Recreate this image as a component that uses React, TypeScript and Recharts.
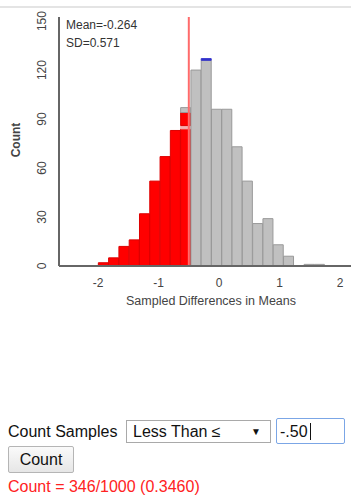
import { ComposedChart, Bar, XAxis, YAxis, ReferenceLine } from 'recharts';

// histogram bins (bin centres) and counts per colour band
const binCenters = [-1.91, -1.74, -1.57, -1.4, -1.23, -1.06, -0.89, -0.72, -0.55, -0.38, -0.21, -0.04, 0.13, 0.3, 0.47, 0.64, 0.81, 0.98, 1.15, 1.32, 1.49, 1.66];
const redCounts = [2, 5, 12, 16, 32, 52, 67, 83, 84, 0, 0, 0, 0, 0, 0, 0, 0, 0, 0, 0, 0, 0];
const gapCounts = [0, 0, 0, 0, 0, 0, 0, 0, 2, 0, 0, 0, 0, 0, 0, 0, 0, 0, 0, 0, 0, 0];
const redUpperCounts = [0, 0, 0, 0, 0, 0, 0, 0, 8, 0, 0, 0, 0, 0, 0, 0, 0, 0, 0, 0, 0, 0];
const grayCounts = [0, 0, 0, 0, 0, 0, 0, 0, 3, 120, 126, 96, 96, 73, 52, 26, 29, 13, 6, 0, 1, 1];
const blueCounts = [0, 0, 0, 0, 0, 0, 0, 0, 0, 0, 1, 0, 0, 0, 0, 0, 0, 0, 0, 0, 0, 0];

const xTicks = [-2, -1, 0, 1, 2];
const yTicks = [0, 30, 60, 90, 120, 150];
const cutoff = -0.5;

const meanText = 'Mean=-0.264';
const sdText = 'SD=0.571';
const resultText = 'Count = 346/1000 (0.3460)';

const FONT = '"Liberation Sans", Arial, sans-serif';

const chartData = binCenters.map((x, i) => ({
  x,
  red: redCounts[i],
  gap: gapCounts[i],
  redUpper: redUpperCounts[i],
  gray: grayCounts[i],
  blue: blueCounts[i],
}));

function YTick({ y, payload }: any) {
  return (
    <text
      x={46}
      y={y}
      transform={`rotate(-90 46 ${y})`}
      textAnchor="middle"
      fill="#444"
      fontSize={12}
      fontFamily={FONT}
    >
      {payload.value}
    </text>
  );
}

export default function App() {
  return (
    <div style={{ position: 'absolute', left: 0, top: 0, width: 351, height: 503, fontFamily: FONT, background: '#fff' }}>
      <div style={{ position: 'absolute', left: 0, top: 6, width: 351, height: 2, background: '#e4e4e4' }} />
      <ComposedChart
        width={351}
        height={310}
        data={chartData}
        margin={{ top: 17, right: 0, bottom: 0, left: 0 }}
        barCategoryGap={0}
        barGap={0}
      >
        <XAxis
          dataKey="x"
          type="number"
          domain={[-2.645, 2.18]}
          allowDataOverflow
          ticks={xTicks}
          tickLine={false}
          tickMargin={6}
          height={44}
          stroke="#666"
          strokeWidth={2}
          tick={{ fill: '#444', fontSize: 12, fontFamily: FONT }}
          label={{ value: 'Sampled Differences in Means', position: 'insideBottom', offset: 5, dx: 6, fill: '#444', fontSize: 12.5, fontFamily: FONT }}
        />
        <YAxis
          type="number"
          domain={[0, 152.5]}
          allowDataOverflow
          ticks={yTicks}
          tickLine={false}
          width={59}
          stroke="#666"
          strokeWidth={2}
          tick={<YTick />}
        />
        <Bar dataKey="red" stackId="h" fill="#ff0000" stroke="#dd0000" strokeWidth={1} isAnimationActive={false} />
        <Bar dataKey="gap" stackId="h" fill="#f4b0b0" stroke="#f4b0b0" strokeWidth={1} isAnimationActive={false} />
        <Bar dataKey="redUpper" stackId="h" fill="#ff0000" stroke="#dd0000" strokeWidth={1} isAnimationActive={false} />
        <Bar dataKey="gray" stackId="h" fill="#c0c0c0" stroke="#999" strokeWidth={1} isAnimationActive={false} />
        <Bar dataKey="blue" stackId="h" fill="#3333cc" stroke="#3333cc" strokeWidth={1} isAnimationActive={false} />
        <ReferenceLine x={cutoff} stroke="#ff6b6b" strokeWidth={2} />
      </ComposedChart>
      <div style={{ position: 'absolute', left: 66, top: 18, fontSize: 12, color: '#333' }}>{meanText}</div>
      <div style={{ position: 'absolute', left: 66, top: 36, fontSize: 12, color: '#333' }}>{sdText}</div>
      <div
        style={{
          position: 'absolute',
          left: 16,
          top: 140,
          fontSize: 12,
          fontWeight: 'bold',
          color: '#444',
          transform: 'translate(-50%, -50%) rotate(-90deg)',
          whiteSpace: 'nowrap',
        }}
      >
        Count
      </div>
      <div style={{ position: 'absolute', left: 8, top: 422, fontSize: 16, color: '#111', lineHeight: '20px' }}>Count Samples</div>
      <div
        style={{
          position: 'absolute',
          left: 126,
          top: 420,
          width: 143,
          height: 21,
          border: '1px solid #a9a9a9',
          background: '#fff',
          fontSize: 16,
          lineHeight: '21px',
          color: '#111',
        }}
      >
        <span style={{ position: 'absolute', left: 6 }}>Less Than ≤</span>
        <span style={{ position: 'absolute', right: 9, fontSize: 10 }}>▼</span>
      </div>
      <div
        style={{
          position: 'absolute',
          left: 276,
          top: 418,
          width: 64,
          height: 24,
          border: '1.5px solid #7ba6e6',
          borderRadius: 2,
          background: '#fff',
          fontSize: 16,
          lineHeight: '25px',
          color: '#111',
          paddingLeft: 3,
          boxSizing: 'content-box',
        }}
      >
        -.50
        <div style={{ position: 'absolute', left: 33, top: 4, width: 1, height: 17, background: '#111' }} />
      </div>
      <div
        style={{
          position: 'absolute',
          left: 8,
          top: 446,
          width: 64,
          height: 25,
          border: '1px solid #b5b5b5',
          borderRadius: 2,
          background: 'linear-gradient(#fafafa, #e6e6e6)',
          fontSize: 16,
          lineHeight: '25px',
          textAlign: 'center',
          color: '#111',
        }}
      >
        Count
      </div>
      <div style={{ position: 'absolute', left: 8, top: 477, fontSize: 16, color: '#f22', lineHeight: '20px' }}>{resultText}</div>
    </div>
  );
}
